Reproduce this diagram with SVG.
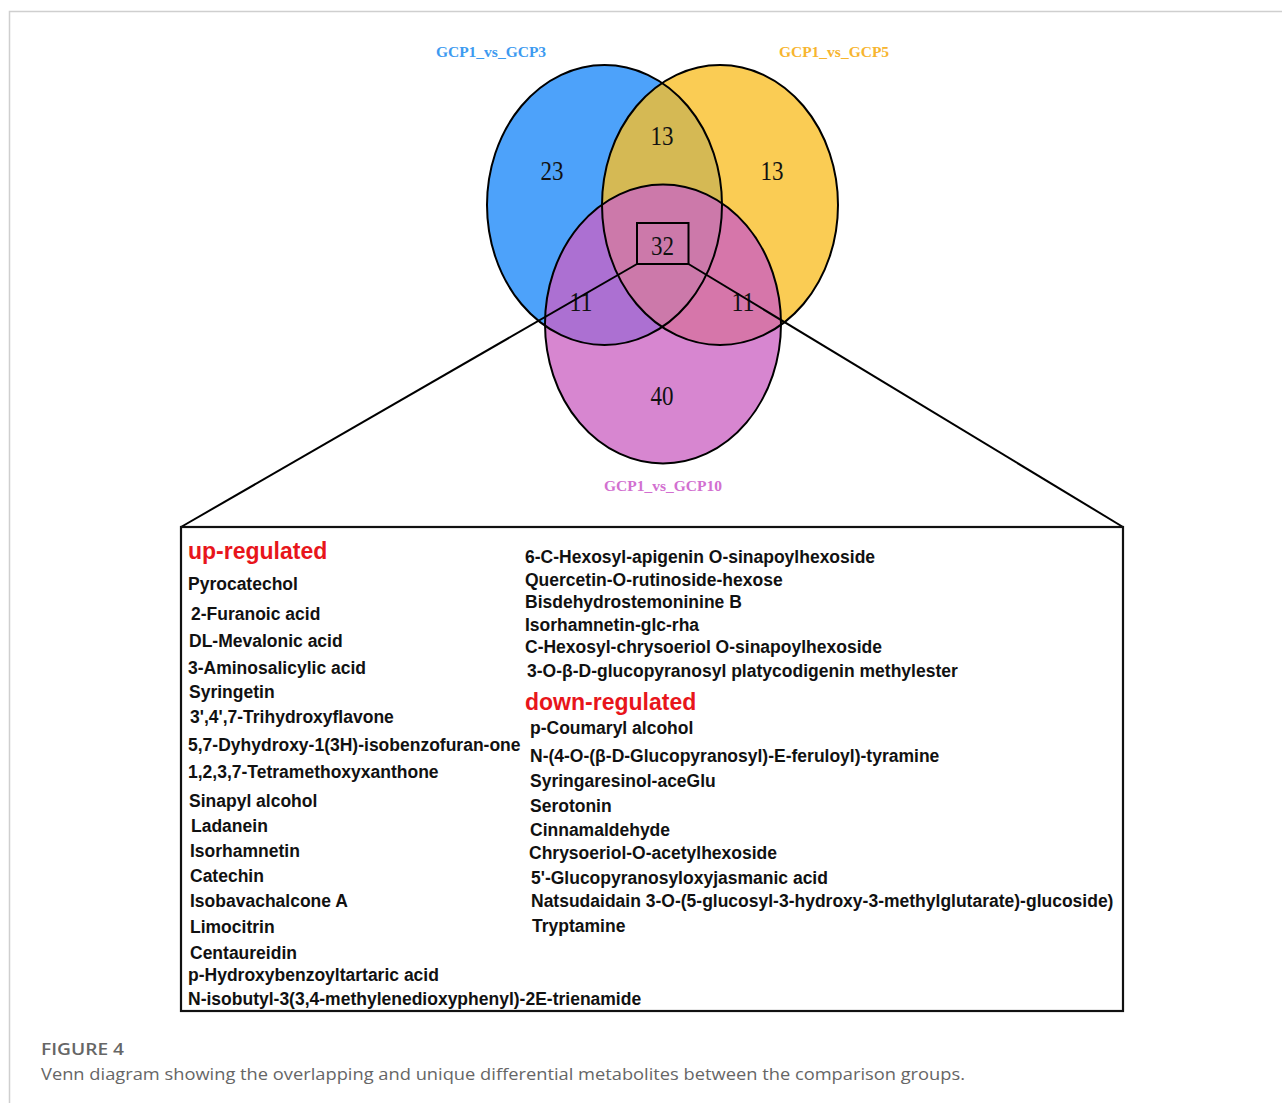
<svg xmlns="http://www.w3.org/2000/svg" width="1282" height="1103" viewBox="0 0 1282 1103">
  <style>
    .set-label { font-family: "Liberation Serif", "Times New Roman", serif; font-weight: bold; font-size: 15.5px; text-anchor: middle; }
    .count { font-family: "Liberation Serif", "Times New Roman", serif; font-size: 28px; text-anchor: middle; fill: #111; }
    .outline { fill: none; stroke: #000; stroke-width: 2; }
    .item { font-family: "Liberation Sans", Arial, sans-serif; font-weight: bold; font-size: 17.5px; fill: #111; }
    .head { font-family: "Liberation Sans", Arial, sans-serif; font-weight: bold; font-size: 23px; fill: #e8151b; }
    .link { fill: none; stroke: #000; stroke-width: 2; }
    .caption { font-family: "Open Sans", "Noto Sans", sans-serif; fill: #666; }
  </style>
  <defs>
    <clipPath id="clip-gcp3"><ellipse cx="604.5" cy="205" rx="117.5" ry="140"/></clipPath>
    <clipPath id="clip-gcp5"><ellipse cx="720" cy="205" rx="118" ry="140"/></clipPath>
    <clipPath id="clip-gcp10"><ellipse cx="663" cy="324" rx="118" ry="139.5"/></clipPath>
  </defs>

  <rect x="0" y="0" width="1282" height="1103" fill="#fff"/>

  <!-- page frame -->
  <path d="M9.5 1103 V11.5 H1282" fill="none" stroke="#cfcfcf" stroke-width="1.5"/>

  <!-- Venn sets -->
  <g id="venn">
    <ellipse cx="604.5" cy="205" rx="117.5" ry="140" fill="#4da2fa"/>
    <ellipse cx="720" cy="205" rx="118" ry="140" fill="#facc54"/>
    <ellipse cx="720" cy="205" rx="118" ry="140" fill="#d5b954" clip-path="url(#clip-gcp3)"/>
    <ellipse cx="663" cy="324" rx="118" ry="139.5" fill="#d786d0"/>
    <ellipse cx="604.5" cy="205" rx="117.5" ry="140" fill="#ac70d2" clip-path="url(#clip-gcp10)"/>
    <ellipse cx="720" cy="205" rx="118" ry="140" fill="#d676aa" clip-path="url(#clip-gcp10)"/>
    <g clip-path="url(#clip-gcp3)">
      <ellipse cx="720" cy="205" rx="118" ry="140" fill="#cc79aa" clip-path="url(#clip-gcp10)"/>
    </g>
    <ellipse class="outline" cx="604.5" cy="205" rx="117.5" ry="140"/>
    <ellipse class="outline" cx="720" cy="205" rx="118" ry="140"/>
    <ellipse class="outline" cx="663" cy="324" rx="118" ry="139.5"/>
  </g>

  <g id="set-labels">
    <text class="set-label" x="491" y="57" fill="#3d9af0">GCP1_vs_GCP3</text>
    <text class="set-label" x="834" y="57" fill="#f7b52f">GCP1_vs_GCP5</text>
    <text class="set-label" x="663" y="491" fill="#d270d0">GCP1_vs_GCP10</text>
  </g>

  <g id="counts">
    <text class="count" x="552" y="180" textLength="23" lengthAdjust="spacingAndGlyphs">23</text>
    <text class="count" x="662" y="145" textLength="23" lengthAdjust="spacingAndGlyphs">13</text>
    <text class="count" x="772" y="180" textLength="23" lengthAdjust="spacingAndGlyphs">13</text>
    <text class="count" x="581" y="311" textLength="23" lengthAdjust="spacingAndGlyphs">11</text>
    <text class="count" x="743" y="311" textLength="23" lengthAdjust="spacingAndGlyphs">11</text>
    <text class="count" x="662" y="405" textLength="23" lengthAdjust="spacingAndGlyphs">40</text>
  </g>

  <!-- highlighted core count -->
  <g id="core">
    <rect x="637" y="223" width="51.5" height="41" fill="none" stroke="#000" stroke-width="2"/>
    <text class="count" x="662.5" y="255" textLength="23" lengthAdjust="spacingAndGlyphs">32</text>
  </g>

  <!-- zoom-out lines from the core to the list panel -->
  <g id="connectors">
    <path class="link" d="M637 264 L181 527"/>
    <path class="link" d="M688.5 264 L1123 527"/>
  </g>

  <!-- metabolite list panel -->
  <g id="list-panel">
    <rect x="181" y="527" width="942" height="484" fill="none" stroke="#111" stroke-width="2.2"/>
    <text class="head" x="188" y="559">up-regulated</text>
    <text class="item" x="188" y="590">Pyrocatechol</text>
    <text class="item" x="191" y="620">2-Furanoic acid</text>
    <text class="item" x="189" y="647">DL-Mevalonic acid</text>
    <text class="item" x="188" y="674">3-Aminosalicylic acid</text>
    <text class="item" x="189" y="698">Syringetin</text>
    <text class="item" x="190" y="723">3',4',7-Trihydroxyflavone</text>
    <text class="item" x="188" y="751">5,7-Dyhydroxy-1(3H)-isobenzofuran-one</text>
    <text class="item" x="188" y="778">1,2,3,7-Tetramethoxyxanthone</text>
    <text class="item" x="189" y="807">Sinapyl alcohol</text>
    <text class="item" x="191" y="832">Ladanein</text>
    <text class="item" x="190" y="857">Isorhamnetin</text>
    <text class="item" x="190" y="882">Catechin</text>
    <text class="item" x="190" y="907">Isobavachalcone A</text>
    <text class="item" x="190" y="933">Limocitrin</text>
    <text class="item" x="190" y="959">Centaureidin</text>
    <text class="item" x="188" y="981">p-Hydroxybenzoyltartaric acid</text>
    <text class="item" x="188" y="1005">N-isobutyl-3(3,4-methylenedioxyphenyl)-2E-trienamide</text>

    <text class="item" x="525" y="563">6-C-Hexosyl-apigenin O-sinapoylhexoside</text>
    <text class="item" x="525" y="586">Quercetin-O-rutinoside-hexose</text>
    <text class="item" x="525" y="608">Bisdehydrostemoninine B</text>
    <text class="item" x="525" y="631">Isorhamnetin-glc-rha</text>
    <text class="item" x="525" y="653">C-Hexosyl-chrysoeriol O-sinapoylhexoside</text>
    <text class="item" x="527" y="677">3-O-β-D-glucopyranosyl platycodigenin methylester</text>
    <text class="head" x="525" y="710">down-regulated</text>
    <text class="item" x="530" y="734">p-Coumaryl alcohol</text>
    <text class="item" x="530" y="762">N-(4-O-(β-D-Glucopyranosyl)-E-feruloyl)-tyramine</text>
    <text class="item" x="530" y="787">Syringaresinol-aceGlu</text>
    <text class="item" x="530" y="812">Serotonin</text>
    <text class="item" x="530" y="836">Cinnamaldehyde</text>
    <text class="item" x="529" y="859">Chrysoeriol-O-acetylhexoside</text>
    <text class="item" x="531" y="884">5'-Glucopyranosyloxyjasmanic acid</text>
    <text class="item" x="531" y="907">Natsudaidain 3-O-(5-glucosyl-3-hydroxy-3-methylglutarate)-glucoside)</text>
    <text class="item" x="532" y="932">Tryptamine</text>
  </g>

  <!-- caption -->
  <g id="caption">
    <text class="caption" x="41" y="1055" font-size="17" font-weight="600" fill="#555" textLength="83" lengthAdjust="spacingAndGlyphs">FIGURE 4</text>
    <text class="caption" x="41" y="1080" font-size="17" textLength="924" lengthAdjust="spacingAndGlyphs">Venn diagram showing the overlapping and unique differential metabolites between the comparison groups.</text>
  </g>
</svg>
